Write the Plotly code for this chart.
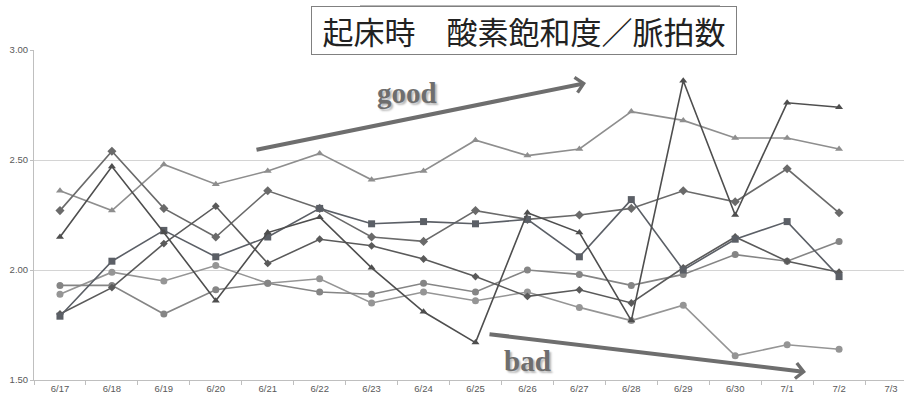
import plotly.graph_objects as go

# Morning readings: oxygen saturation / pulse rate, per day
dates = ["6/17", "6/18", "6/19", "6/20", "6/21", "6/22", "6/23", "6/24", "6/25",
         "6/26", "6/27", "6/28", "6/29", "6/30", "7/1", "7/2", "7/3"]

tri_light = [2.36, 2.27, 2.48, 2.39, 2.45, 2.53, 2.41, 2.45, 2.59, 2.52, 2.55, 2.72,
             2.68, 2.60, 2.60, 2.55, None]
dia_upper = [2.27, 2.54, 2.28, 2.15, 2.36, 2.28, 2.15, 2.13, 2.27, 2.23, 2.25, 2.28,
             2.36, 2.31, 2.46, 2.26, None]
tri_dark = [2.15, 2.47, 2.17, 1.86, 2.17, 2.24, 2.01, 1.81, 1.67, 2.26, 2.17, 1.77,
            2.86, 2.25, 2.76, 2.74, None]
squares = [1.79, 2.04, 2.18, 2.06, 2.15, 2.28, 2.21, 2.22, 2.21, 2.23, 2.06, 2.32,
           2.00, 2.14, 2.22, 1.97, None]
dia_lower = [1.80, 1.92, 2.12, 2.29, 2.03, 2.14, 2.11, 2.05, 1.97, 1.88, 1.91, 1.85,
             2.01, 2.15, 2.04, 1.99, None]
circ_a = [1.93, 1.93, 1.80, 1.91, 1.94, 1.90, 1.89, 1.94, 1.90, 2.00, 1.98, 1.93,
          1.98, 2.07, 2.04, 2.13, None]
circ_b = [1.89, 1.99, 1.95, 2.02, 1.94, 1.96, 1.85, 1.90, 1.86, 1.90, 1.83, 1.77,
          1.84, 1.61, 1.66, 1.64, None]

series = [
    (tri_light, "#8e8e8e", "triangle-up", 7),
    (circ_b, "#959595", "circle", 7),
    (circ_a, "#858585", "circle", 7),
    (dia_upper, "#6a6a6a", "diamond", 7),
    (dia_lower, "#5a5a5a", "diamond", 6),
    (squares, "#5b5f66", "square", 7),
    (tri_dark, "#4e4e4e", "triangle-up", 7),
]

fig = go.Figure()
for vals, col, sym, sz in series:
    fig.add_trace(go.Scatter(
        x=dates, y=vals, mode="lines+markers",
        line=dict(color=col, width=1.6),
        marker=dict(symbol=sym, size=sz, color=col),
        showlegend=False,
    ))

tick_font = dict(family="Liberation Sans", size=9.5, color="#595959")

fig.update_layout(
    width=904, height=400,
    margin=dict(l=34, r=0, t=50, b=20),
    paper_bgcolor="white", plot_bgcolor="white",
    xaxis=dict(
        type="category", categoryarray=dates, range=[-0.5, 16.25],
        showgrid=False, showline=True, linecolor="#bfbfbf", linewidth=1,
        ticks="outside", tickson="boundaries", ticklen=4, tickcolor="#bfbfbf",
        tickfont=tick_font, fixedrange=True,
    ),
    yaxis=dict(
        range=[1.5, 3.0], dtick=0.5, tickformat=".2f",
        showgrid=True, gridcolor="#d4d4d4", gridwidth=1, zeroline=False,
        showline=True, linecolor="#bfbfbf", linewidth=1,
        ticks="outside", ticklen=3, tickcolor="#bfbfbf",
        tickfont=tick_font, fixedrange=True,
    ),
)

def px_x(v):
    return (v - 34) / 870

def px_y(v):
    return (380 - v) / 330

# Title box
fig.add_annotation(
    xref="paper", yref="paper", x=px_x(524), y=px_y(30.5),
    text="起床時　酸素飽和度／脈拍数", showarrow=False,
    font=dict(family="Noto Sans CJK JP", size=31, color="#222222"),
    width=424, height=47, borderpad=0, borderwidth=1,
    bordercolor="#808080", bgcolor="white",
    xanchor="center", yanchor="middle",
)
fig.add_shape(
    type="line", xref="paper", yref="paper",
    x0=px_x(360), x1=px_x(720), y0=px_y(6.5), y1=px_y(6.5),
    line=dict(color="#707070", width=2),
)

# Trend arrows
arrow_col = "#6e6e6e"
fig.add_annotation(
    xref="paper", yref="paper", x=px_x(586), y=px_y(83),
    ax=255 - 586, ay=150 - 83, text="", showarrow=True,
    arrowhead=4, arrowsize=0.75, arrowwidth=4, arrowcolor=arrow_col,
)
fig.add_annotation(
    xref="paper", yref="paper", x=px_x(806), y=px_y(372),
    ax=488 - 806, ay=334 - 372, text="", showarrow=True,
    arrowhead=4, arrowsize=0.75, arrowwidth=4, arrowcolor=arrow_col,
)

label_font = dict(family="Liberation Serif", size=29, color="#6e6e6e",
                  weight="bold", shadow="2px 2px 2px #b8b8b8")
fig.add_annotation(
    xref="paper", yref="paper", x=px_x(407), y=px_y(93),
    text="good", showarrow=False, font=label_font,
    xanchor="center", yanchor="middle",
)
fig.add_annotation(
    xref="paper", yref="paper", x=px_x(527), y=px_y(361),
    text="bad", showarrow=False, font=label_font,
    xanchor="center", yanchor="middle",
)

fig.write_html("out.html")
